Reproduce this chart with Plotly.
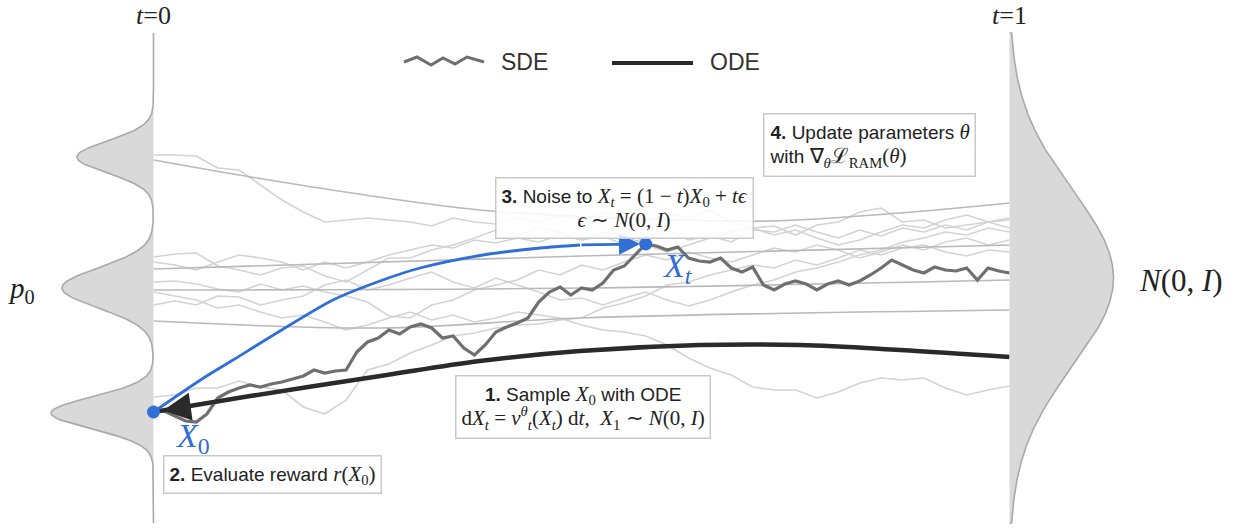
import numpy as np
import plotly.graph_objects as go

# ---------------- data (t in [0,1], y in value units) ----------------
t_light = np.linspace(0, 1, 41)
t_dark = np.linspace(0, 1, 81)

sde_a = [1.25,1.25,1.24,1.12,1.10,0.95,0.80,0.68,0.58,0.60,0.62,0.60,0.58,0.54,0.62,0.58,0.56,0.62,0.58,0.65,0.60,
         0.68,0.64,0.58,0.66,0.62,0.70,0.58,0.52,0.54,0.45,0.55,0.58,0.68,0.72,0.58,0.60,0.52,0.55,0.58,0.60]
sde_b = [0.23,0.26,0.27,0.14,0.10,0.05,0.12,0.14,0.04,-0.02,0.10,0.22,0.22,0.30,0.35,0.42,0.50,0.45,0.52,0.48,0.40,
         0.44,0.35,0.42,0.50,0.40,0.44,0.38,0.50,0.48,0.55,0.48,0.42,0.50,0.44,0.52,0.48,0.55,0.50,0.58,0.52]
sde_c = [-0.02,-0.01,-0.04,-0.09,-0.12,-0.04,-0.10,-0.06,-0.12,-0.16,-0.22,-0.36,-0.38,-0.25,-0.20,-0.10,-0.05,0.00,0.10,0.05,0.15,
         0.10,0.18,0.25,0.20,0.28,0.22,0.18,0.25,0.32,0.28,0.35,0.30,0.22,0.28,0.35,0.30,0.38,0.42,0.35,0.40]
sde_d = [-0.25,-0.21,-0.25,-0.16,-0.17,-0.25,-0.20,-0.16,-0.05,0.00,-0.10,-0.05,0.02,0.08,-0.02,-0.08,0.02,-0.05,-0.12,-0.20,-0.18,
         -0.25,-0.18,-0.12,-0.20,-0.26,-0.20,-0.12,-0.05,0.00,0.08,0.12,0.18,0.25,0.30,0.38,0.42,0.48,0.45,0.52,0.48]
sde_e = [-1.17,-1.15,-1.08,-1.08,-1.01,-1.07,-1.10,-1.27,-1.34,-1.20,-0.90,-0.84,-0.73,-0.65,-0.56,-0.53,-0.48,-0.45,-0.44,-0.40,-0.38,
         -0.28,-0.23,-0.16,-0.05,-0.02,0.05,0.10,0.15,0.12,0.20,0.15,0.22,0.30,0.25,0.32,0.35,0.28,0.24,0.30,0.28]
sde_f = [-0.12,-0.16,-0.20,-0.28,-0.25,-0.32,-0.38,-0.35,-0.42,-0.50,-0.45,-0.38,-0.32,-0.40,-0.35,-0.42,-0.38,-0.32,-0.35,-0.38,-0.45,
         -0.50,-0.52,-0.56,-0.65,-0.78,-0.88,-0.95,-1.07,-1.10,-1.10,-1.18,-1.12,-1.03,-0.98,-1.00,-0.98,-1.08,-1.15,-1.10,-1.06]
sde_g = [0.18,0.15,0.10,0.18,0.25,0.22,0.18,0.10,0.18,0.12,0.18,0.25,0.30,0.35,0.32,0.40,0.37,0.42,0.38,0.45,0.40,
         0.48,0.44,0.35,0.28,0.35,0.42,0.48,0.52,0.45,0.50,0.42,0.35,0.40,0.48,0.55,0.52,0.60,0.65,0.58,0.62]
sde_light = [sde_a, sde_b, sde_c, sde_d, sde_e, sde_f, sde_g]

sde_highlight = [-1.32,-1.31,-1.36,-1.41,-1.42,-1.34,-1.18,-1.12,-1.08,-1.05,-1.07,-1.04,-1.02,-0.99,-0.96,-0.90,-0.93,-0.91,-0.90,-0.72,
                 -0.62,-0.58,-0.50,-0.54,-0.47,-0.44,-0.48,-0.58,-0.56,-0.68,-0.75,-0.65,-0.52,-0.47,-0.43,-0.38,-0.22,-0.12,-0.07,-0.15,
                 -0.08,-0.10,-0.03,0.10,0.14,0.25,0.36,0.34,0.30,0.33,0.22,0.19,0.18,0.22,0.12,0.08,0.13,-0.05,-0.10,-0.04,
                 -0.01,-0.04,-0.10,-0.04,-0.01,-0.05,-0.01,0.05,0.12,0.20,0.15,0.10,0.07,0.13,0.10,0.09,0.12,0.00,0.12,0.09,0.07]
xt_index = 46

ode_light = [
    ([0, 0.171, 0.381, 0.550, 0.720, 0.872, 1.0], [1.20, 0.95, 0.70, 0.62, 0.59, 0.67, 0.77]),
    ([0, 0.5, 1.0], [0.11, 0.24, 0.35]),
    ([0, 0.5, 1.0], [-0.10, -0.08, 0.00]),
    ([0, 0.265, 0.498, 1.0], [-0.41, -0.48, -0.38, -0.30]),
]
ode_main_t = [1.0, 0.872, 0.755, 0.638, 0.498, 0.381, 0.265, 0.113, 0.0]
ode_main_y = [-0.77, -0.70, -0.65, -0.65, -0.71, -0.81, -0.96, -1.16, -1.32]

noise_t = [0.0, 0.0549, 0.0929, 0.1478, 0.2097, 0.2646, 0.3113, 0.3849, 0.4515, 0.4982, 0.5683]
noise_y = [-1.32, -1.00, -0.80, -0.51, -0.20, -0.01, 0.12, 0.25, 0.32, 0.35, 0.36]

# p0 mixture (means, stds, weights) and N(0,I) (mean, std)
p0_means = [1.23, -0.08, -1.33]
p0_stds = [0.16, 0.20, 0.16]
p0_weights = [0.261, 0.390, 0.349]
p0_scale = 0.1375
p1_mean, p1_std, p1_scale = 0.02, 0.88, 0.268
y_lo, y_hi = -2.43, 2.47

# ---------------- styles ----------------
BLUE = "#2f6fd6"
LIGHT = "#d3d3d3"
ODEL = "#b9b9b9"
DARK = "#6f6f6f"
BLACK = "#2a2a2a"
AXIS = "#a9a9a9"
FILL = "#d9d9d9"
SANS = "Liberation Sans"
SERIF = "Liberation Serif"

W, H = 1244, 529
x_range = [-153.5 / 856, (W - 153.5) / 856]
y_range = [(280 - H) / 100, 280 / 100]

fig = go.Figure()

for ys in sde_light:
    fig.add_trace(go.Scatter(x=t_light, y=ys, mode="lines", line=dict(color=LIGHT, width=1.6), hoverinfo="skip"))
for ts, ys in ode_light:
    fig.add_trace(go.Scatter(x=ts, y=ys, mode="lines", line=dict(color=ODEL, width=1.6, shape="spline", smoothing=1.0), hoverinfo="skip"))

fig.add_trace(go.Scatter(x=t_dark, y=sde_highlight, mode="lines", line=dict(color=DARK, width=3.2), hoverinfo="skip"))
fig.add_trace(go.Scatter(x=ode_main_t, y=ode_main_y, mode="lines", line=dict(color=BLACK, width=4.5, shape="spline", smoothing=1.0), hoverinfo="skip"))
fig.add_trace(go.Scatter(x=noise_t[:-1], y=noise_y[:-1], mode="lines", line=dict(color=BLUE, width=2.8, shape="spline", smoothing=0.8), hoverinfo="skip"))

# densities
ygrid = np.linspace(y_lo, y_hi, 500)
p0 = sum(w * np.exp(-0.5 * ((ygrid - m) / s) ** 2) / (s * np.sqrt(2 * np.pi)) for m, s, w in zip(p0_means, p0_stds, p0_weights))
p1 = np.exp(-0.5 * ((ygrid - p1_mean) / p1_std) ** 2) / (p1_std * np.sqrt(2 * np.pi))
fig.add_trace(go.Scatter(x=np.concatenate([[0], -p0_scale * p0, [0]]), y=np.concatenate([[y_lo], ygrid, [y_hi]]),
                         mode="lines", fill="toself", fillcolor=FILL, line=dict(color=AXIS, width=1.6), hoverinfo="skip"))
fig.add_trace(go.Scatter(x=np.concatenate([[1], 1 + p1_scale * p1, [1]]), y=np.concatenate([[y_lo], ygrid, [y_hi]]),
                         mode="lines", fill="toself", fillcolor=FILL, line=dict(color=AXIS, width=1.6), hoverinfo="skip"))

# points X0 and Xt
fig.add_trace(go.Scatter(x=[0, t_dark[xt_index]], y=[sde_highlight[0], sde_highlight[xt_index]], mode="markers",
                         marker=dict(color=BLUE, size=13), hoverinfo="skip"))

def m(s, size=21):
    return f"<span style=\"font-family:'{SERIF}';font-size:{size}px\">{s}</span>"

ann = []
# arrows
ann.append(dict(x=0.011, y=-1.305, ax=0.045, ay=-1.265, xref="x", yref="y", axref="x", ayref="y", text="",
                showarrow=True, arrowhead=2, arrowsize=1.4, arrowwidth=4, arrowcolor=BLACK, standoff=0))
ann.append(dict(x=noise_t[-1], y=noise_y[-1], ax=noise_t[-2], ay=noise_y[-2], xref="x", yref="y", axref="x", ayref="y", text="",
                showarrow=True, arrowhead=2, arrowsize=1.5, arrowwidth=2.8, arrowcolor=BLUE, standoff=0))

box = dict(bgcolor="rgba(255,255,255,0.85)", bordercolor="#c9c9c9", borderwidth=1.5, borderpad=5,
           showarrow=False, yanchor="middle", font=dict(family=SANS, size=19, color="#222"))

ann.append(dict(x=0.550, y=0.72, xref="x", yref="y", align="center", xanchor="center",
                text="<b>3.</b> Noise to " + m("<i>X</i><sub><i>t</i></sub> = (1 − <i>t</i>)<i>X</i><sub>0</sub> + <i>tϵ</i>")
                     + "<br>" + m("<i>ϵ</i> ∼ <i>N</i>(0, <i>I</i>)"), **box))
ann.append(dict(x=0.502, y=-1.265, xref="x", yref="y", align="center", xanchor="center",
                text="<b>1.</b> Sample " + m("<i>X</i><sub>0</sub>") + " with ODE<br>"
                     + m("d<i>X</i><sub><i>t</i></sub> = <i>v</i><sup><i>θ</i></sup><sub><i>t</i></sub>(<i>X</i><sub><i>t</i></sub>) d<i>t</i>,  <i>X</i><sub>1</sub> ∼ <i>N</i>(0, <i>I</i>)", 21),
                **box))
ann.append(dict(x=0.712, y=1.355, xref="x", yref="y", xanchor="left", align="left",
                text="<b>4.</b> Update parameters " + m("<i>θ</i>") + "<br>with " + m("∇<sub><i>θ</i></sub>ℒ<sub>RAM</sub>(<i>θ</i>)"), **box))
ann.append(dict(x=0.011, y=-1.945, xref="x", yref="y", xanchor="left",
                text="<b>2.</b> Evaluate reward " + m("<i>r</i>(<i>X</i><sub>0</sub>)"), **box))

lab = dict(showarrow=False, xref="x", yref="y", xanchor="center", yanchor="middle")
ann.append(dict(x=0, y=2.65, text="<i>t</i>=0", font=dict(family=SERIF, size=26, color="#222"), **lab))
ann.append(dict(x=1, y=2.65, text="<i>t</i>=1", font=dict(family=SERIF, size=26, color="#222"), **lab))
ann.append(dict(x=-0.154, y=-0.10, text="<i>p</i><sub>0</sub>", font=dict(family=SERIF, size=29, color="#222"), **lab))
ann.append(dict(x=1.2004, y=0.0, text="<i>N</i>(0, <i>I</i>)", font=dict(family=SERIF, size=31, color="#222"), **lab))
ann.append(dict(x=0.046, y=-1.58, text="<i>X</i><sub>0</sub>", font=dict(family=SERIF, size=34, color=BLUE), **lab))
ann.append(dict(x=0.612, y=0.12, text="<i>X</i><sub><i>t</i></sub>", font=dict(family=SERIF, size=34, color=BLUE), **lab))

# legend (layout glyphs in paper coords, from reference pixel positions)
def px_x(x):
    return x / W
def px_y(y):
    return 1 - y / H
zig = [(404, 62), (417, 57), (431, 65), (443, 58), (455, 64), (467, 57), (484, 62)]
shapes = [
    dict(type="path", xref="paper", yref="paper",
         path="M" + " L".join(f"{px_x(x):.5f},{px_y(y):.5f}" for x, y in zig),
         line=dict(color=DARK, width=3)),
    dict(type="line", xref="paper", yref="paper", x0=px_x(612), x1=px_x(693), y0=px_y(63), y1=px_y(63),
         line=dict(color=BLACK, width=4)),
]
ann.append(dict(x=px_x(499), y=px_y(62), xref="paper", yref="paper", xanchor="left", yanchor="middle", showarrow=False,
                text="SDE", font=dict(family=SANS, size=23, color="#333")))
ann.append(dict(x=px_x(708), y=px_y(62), xref="paper", yref="paper", xanchor="left", yanchor="middle", showarrow=False,
                text="ODE", font=dict(family=SANS, size=23, color="#333")))

fig.update_layout(
    width=W, height=H, margin=dict(l=0, r=0, t=0, b=0), autosize=False,
    paper_bgcolor="white", plot_bgcolor="white", showlegend=False, hovermode=False,
    xaxis=dict(range=x_range, visible=False, fixedrange=True),
    yaxis=dict(range=y_range, visible=False, fixedrange=True),
    annotations=ann, shapes=shapes,
)
fig.write_html("out.html", config={"displayModeBar": False, "staticPlot": True},
               post_script="document.body.style.margin='0';document.body.style.overflow='hidden';")
